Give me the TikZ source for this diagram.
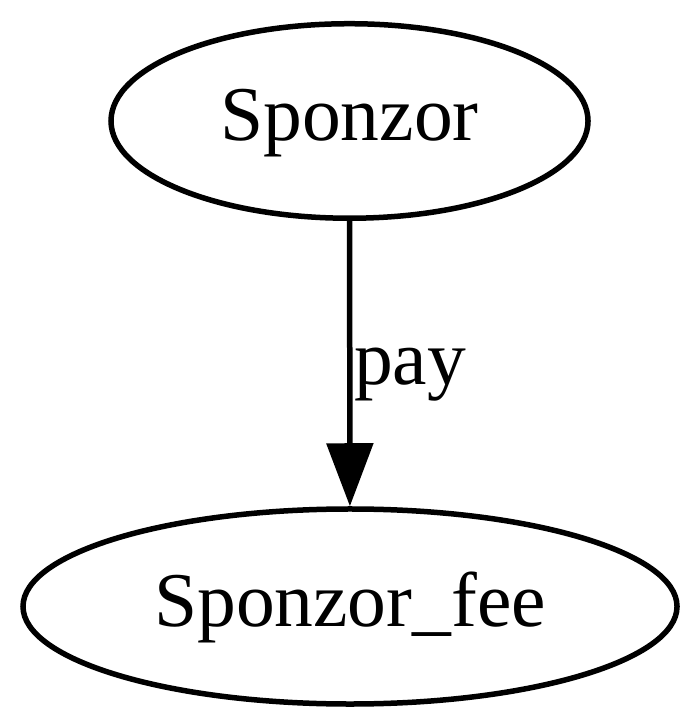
\documentclass[tikz,border=0pt]{standalone}
\usepackage{fontspec}
\setmainfont{Liberation Serif}
\usetikzlibrary{shapes.geometric,arrows.meta}

\begin{document}
\begin{tikzpicture}[
        x=0.2pt, y=-0.2pt,
        party/.style={ellipse, draw, line width=1.1pt, inner sep=0pt,
            font=\fontsize{15.5}{18}\selectfont, text height=0.8em, text depth=0.02em},
        flow/.style={-{Triangle[length=12.6pt, width=9.2pt]}, line width=1.1pt},
        flowtext/.style={font=\fontsize{15.5}{18}\selectfont, inner sep=0.3pt}
    ]
        \useasboundingbox (0, 0) rectangle (700, 727);

        % Parties
        \node[party, minimum width=95.4pt, minimum height=38.9pt] (sponzor) at (349.5, 121) {Sponzor};
        \node[party, minimum width=130.8pt, minimum height=39pt] (fee) at (350, 606.5) {Sponzor\_fee};

        % Payment
        \draw[flow] (sponzor) -- node[flowtext, pos=0.54, right] {pay} (fee);
    \end{tikzpicture}
\end{document}
